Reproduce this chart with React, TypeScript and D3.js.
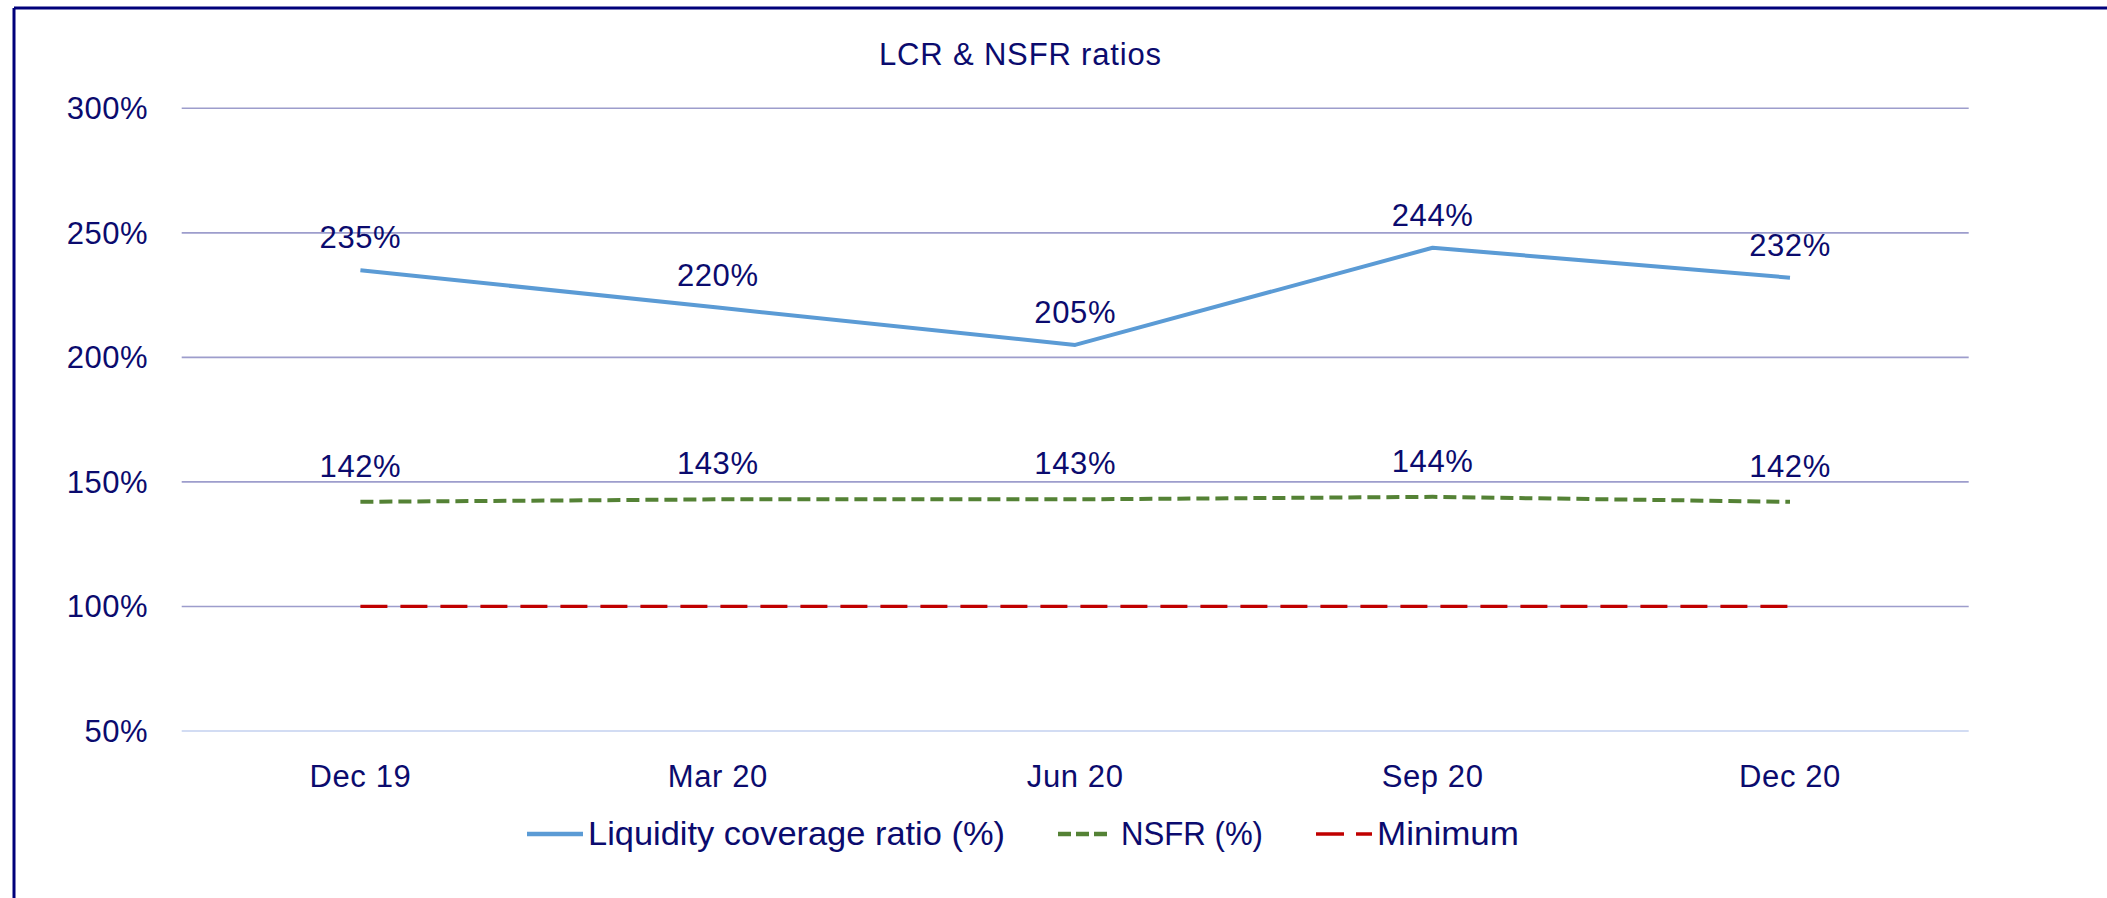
import React from "react";
import * as d3 from "d3";

const categories = ["Dec 19", "Mar 20", "Jun 20", "Sep 20", "Dec 20"];
const lcrValues = [235, 220, 205, 244, 232];
const nsfrValues = [142, 143, 143, 144, 142];
const minimumValues = [100, 100, 100, 100, 100];
const yTicks = [50, 100, 150, 200, 250, 300];
const seriesNames = ["Liquidity coverage ratio (%)", "NSFR (%)", "Minimum"];
const title = "LCR & NSFR ratios";

const W = 2107;
const H = 898;
const TEXT = "#0b0b6e";
const FONT = "'Liberation Sans', Arial, sans-serif";

export default function App() {
  const x = d3.scaleBand<string>().domain(categories).range([181.7, 1968.7]);
  const y = d3.scaleLinear().domain([50, 300]).range([731, 108.3]);
  const cx = (c: string) => (x(c) as number) + x.bandwidth() / 2;
  const line = d3
    .line<number>()
    .x((_, i) => cx(categories[i]))
    .y((d) => y(d));

  return (
    <svg
      width={W}
      height={H}
      style={{ position: "absolute", left: 0, top: 0, background: "#fff" }}
      fontFamily={FONT}
    >
      <rect x={0} y={0} width={W} height={H} fill="#fff" />
      {/* frame */}
      <line x1={14} y1={8} x2={W} y2={8} stroke="#00007a" strokeWidth={3} />
      <line x1={14} y1={8} x2={14} y2={H} stroke="#00007a" strokeWidth={3} />

      <text x={1020} y={65} textAnchor="middle" fontSize={31} fill={TEXT} textLength={282} lengthAdjust="spacing">
        {title}
      </text>

      {/* grid */}
      {yTicks.map((t) => (
        <g key={t}>
          <line
            x1={x.range()[0]}
            x2={x.range()[1]}
            y1={y(t)}
            y2={y(t)}
            stroke={t === 50 ? "#c3d1ef" : "#9d9dcc"}
            strokeWidth={1.6}
          />
          <text x={148} y={y(t) + 11} textAnchor="end" fontSize={31} fill={TEXT} letterSpacing={0.5}>
            {t}%
          </text>
        </g>
      ))}

      {/* x labels */}
      {categories.map((c) => (
        <text key={c} x={cx(c)} y={787} textAnchor="middle" fontSize={31} fill={TEXT} letterSpacing={0.6}>
          {c}
        </text>
      ))}

      {/* series */}
      <path d={line(minimumValues) || ""} fill="none" stroke="#c00000" strokeWidth={3.3} strokeDasharray="27 13" />
      <path
        d={line(nsfrValues) || ""}
        fill="none"
        stroke="#548235"
        strokeWidth={4}
        strokeDasharray="13 6"
      />
      <path d={line(lcrValues) || ""} fill="none" stroke="#5b9bd5" strokeWidth={4} strokeLinejoin="round" />

      {/* data labels */}
      {lcrValues.map((v, i) => (
        <text key={"l" + i} x={cx(categories[i])} y={y(v) - 22} textAnchor="middle" fontSize={31} fill={TEXT} letterSpacing={0.6}>
          {v}%
        </text>
      ))}
      {nsfrValues.map((v, i) => (
        <text key={"n" + i} x={cx(categories[i])} y={y(v) - 25} textAnchor="middle" fontSize={31} fill={TEXT} letterSpacing={0.6}>
          {v}%
        </text>
      ))}

      {/* legend */}
      <g>
        <line x1={527} x2={583} y1={834} y2={834} stroke="#5b9bd5" strokeWidth={4.5} />
        <text x={588} y={845} fontSize={33} fill={TEXT} textLength={417} lengthAdjust="spacingAndGlyphs">
          {seriesNames[0]}
        </text>
        <line x1={1058} x2={1107} y1={834} y2={834} stroke="#548235" strokeWidth={4.5} strokeDasharray="13 5" />
        <text x={1121} y={845} fontSize={33} fill={TEXT} textLength={142} lengthAdjust="spacingAndGlyphs">
          {seriesNames[1]}
        </text>
        <line x1={1316} x2={1372} y1={834} y2={834} stroke="#c00000" strokeWidth={3.5} strokeDasharray="28 12" />
        <text x={1377} y={845} fontSize={33} fill={TEXT} textLength={142} lengthAdjust="spacingAndGlyphs">
          {seriesNames[2]}
        </text>
      </g>
    </svg>
  );
}
